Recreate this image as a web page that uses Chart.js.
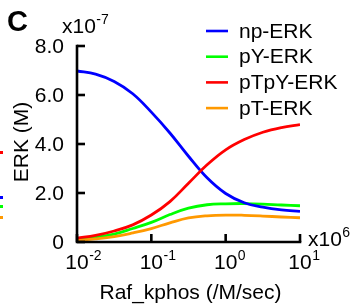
<!DOCTYPE html>
<html>
<head>
<meta charset="utf-8">
<script src="https://cdn.jsdelivr.net/npm/chart.js@4.4.1/dist/chart.umd.min.js"></script>
<style>
html,body{margin:0;padding:0;background:#fff;}
#wrap{position:relative;width:351px;height:306px;overflow:hidden;}
canvas{position:absolute;left:0;top:0;}
.frag{position:absolute;left:0;width:3px;height:3px;}
</style>
</head>
<body>
<div id="wrap">
<canvas id="c" width="351" height="306"></canvas>
<div class="frag" style="top:151px;background:#ff0000"></div>
<div class="frag" style="top:196px;background:#0000ff"></div>
<div class="frag" style="top:205px;background:#00ff00"></div>
<div class="frag" style="top:216px;background:#ff9900"></div>
</div>
<script>
// ---- data (Raf_kphos in units of 1e6 /M/sec ; ERK in units of 1e-7 M) ----
const logKphos = [-2, -1.75, -1.5, -1.25, -1.0, -0.75, -0.5, -0.25, 0, 0.25, 0.5, 0.75, 1.0];
const npERK   = [6.98, 6.85, 6.55, 6.05, 5.30, 4.45, 3.50, 2.62, 1.98, 1.60, 1.42, 1.31, 1.25];
const pYERK   = [0.12, 0.20, 0.32, 0.55, 0.80, 1.12, 1.38, 1.52, 1.56, 1.57, 1.55, 1.51, 1.48];
const pTpYERK = [0.16, 0.27, 0.45, 0.70, 1.10, 1.65, 2.40, 3.15, 3.76, 4.18, 4.48, 4.67, 4.79];
const pTERK   = [0.07, 0.13, 0.22, 0.37, 0.55, 0.78, 0.98, 1.07, 1.10, 1.09, 1.06, 1.02, 0.99];
const seriesNames = ["np-ERK", "pY-ERK", "pTpY-ERK", "pT-ERK"];
const seriesColors = ["#0000ff", "#00ff00", "#ff0000", "#ff9900"];
const yTicks = [0, 2, 4, 6, 8];
const yTickLabels = ["0", "2.0", "4.0", "6.0", "8.0"];
const xTicks = [0.01, 0.1, 1, 10];
const xTickExps = ["-2", "-1", "0", "1"];

const FONT = "'Liberation Sans', Arial, Helvetica, sans-serif";
const xs = logKphos.map(v => Math.pow(10, v));
const seriesVals = [npERK, pYERK, pTpYERK, pTERK];

const datasets = seriesVals.map((vals, i) => ({
  label: seriesNames[i],
  data: vals.map((v, j) => ({x: xs[j], y: v})),
  borderColor: seriesColors[i],
  borderWidth: 2.8,
  pointRadius: 0,
  fill: false,
  tension: 0.4,
  order: [1, 3, 0, 2][i]
}));

function supText(ctx, base, exp, x, y, baseSize, expSize, align) {
  ctx.font = baseSize + "px " + FONT;
  const wb = ctx.measureText(base).width;
  let x0 = x;
  if (align === 'centerBase') x0 = x - wb / 2;
  ctx.textAlign = 'left';
  ctx.textBaseline = 'alphabetic';
  ctx.font = baseSize + "px " + FONT;
  ctx.fillText(base, x0, y);
  ctx.font = expSize + "px " + FONT;
  ctx.fillText(exp, x0 + wb + 0.5, y - baseSize * 0.45);
}

const axesPlugin = {
  id: 'axesPlugin',
  afterDatasetsDraw(chart) {
    const ctx = chart.ctx;
    const xS = chart.scales.x, yS = chart.scales.y;
    const left = xS.getPixelForValue(xTicks[0]);
    const right = xS.getPixelForValue(xTicks[xTicks.length - 1]);
    const top = yS.getPixelForValue(yTicks[yTicks.length - 1]);
    const bottom = yS.getPixelForValue(0);
    ctx.save();
    ctx.strokeStyle = '#000';
    ctx.fillStyle = '#000';
    ctx.lineWidth = 2.6;
    ctx.lineCap = 'square';
    ctx.beginPath();
    ctx.moveTo(left, top);
    ctx.lineTo(left, bottom);
    ctx.lineTo(right, bottom);
    ctx.stroke();
    ctx.lineCap = 'butt';
    yTicks.forEach(v => {
      const py = yS.getPixelForValue(v);
      ctx.beginPath();
      ctx.moveTo(left, py);
      ctx.lineTo(left + 8, py);
      ctx.stroke();
    });
    xTicks.forEach(v => {
      const px = xS.getPixelForValue(v);
      ctx.beginPath();
      ctx.moveTo(px, bottom);
      ctx.lineTo(px, bottom - 8);
      ctx.stroke();
    });
    // y tick labels
    ctx.font = "21px " + FONT;
    ctx.textAlign = 'right';
    ctx.textBaseline = 'middle';
    yTicks.forEach((v, i) => {
      ctx.fillText(yTickLabels[i], left - 13, yS.getPixelForValue(v) + 1);
    });
    // x tick labels
    xTicks.forEach((v, i) => {
      supText(ctx, "10", xTickExps[i], xS.getPixelForValue(v), bottom + 27, 21, 14, 'centerBase');
    });
    // multipliers
    supText(ctx, "x10", "-7", left - 15, top - 13, 21, 14, 'left');
    supText(ctx, "x10", "6", right + 8, bottom + 4, 21, 14, 'left');
    // axis titles
    ctx.font = "21px " + FONT;
    ctx.textAlign = 'center';
    ctx.textBaseline = 'alphabetic';
    ctx.fillText("Raf_kphos (/M/sec)", (left + right) / 2 + 2, bottom + 57);
    ctx.save();
    ctx.translate(28, (top + bottom) / 2 - 2);
    ctx.rotate(-Math.PI / 2);
    ctx.fillText("ERK (M)", 0, 0);
    ctx.restore();
    // panel letter
    ctx.font = "bold 29px " + FONT;
    ctx.textAlign = 'left';
    ctx.fillText("C", 7, 31);
    // legend
    ctx.font = "21px " + FONT;
    ctx.textBaseline = 'middle';
    chart.data.datasets.forEach((ds, i) => {
      const ly = 31 + i * 25.7;
      ctx.strokeStyle = ds.borderColor;
      ctx.lineWidth = 2.6;
      ctx.beginPath();
      ctx.moveTo(206, ly);
      ctx.lineTo(228, ly);
      ctx.stroke();
      ctx.fillStyle = '#000';
      ctx.fillText(ds.label, 239, ly + 1);
    });
    ctx.restore();
  }
};

new Chart(document.getElementById('c'), {
  type: 'line',
  data: {datasets},
  options: {
    responsive: false,
    devicePixelRatio: 1,
    animation: false,
    layout: {padding: {left: 77, top: 46, right: 51, bottom: 64}},
    plugins: {legend: {display: false}, tooltip: {enabled: false}},
    scales: {
      x: {type: 'logarithmic', min: 0.01, max: 10, display: false},
      y: {type: 'linear', min: 0, max: 8, display: false}
    }
  },
  plugins: [axesPlugin]
});
</script>
</body>
</html>
